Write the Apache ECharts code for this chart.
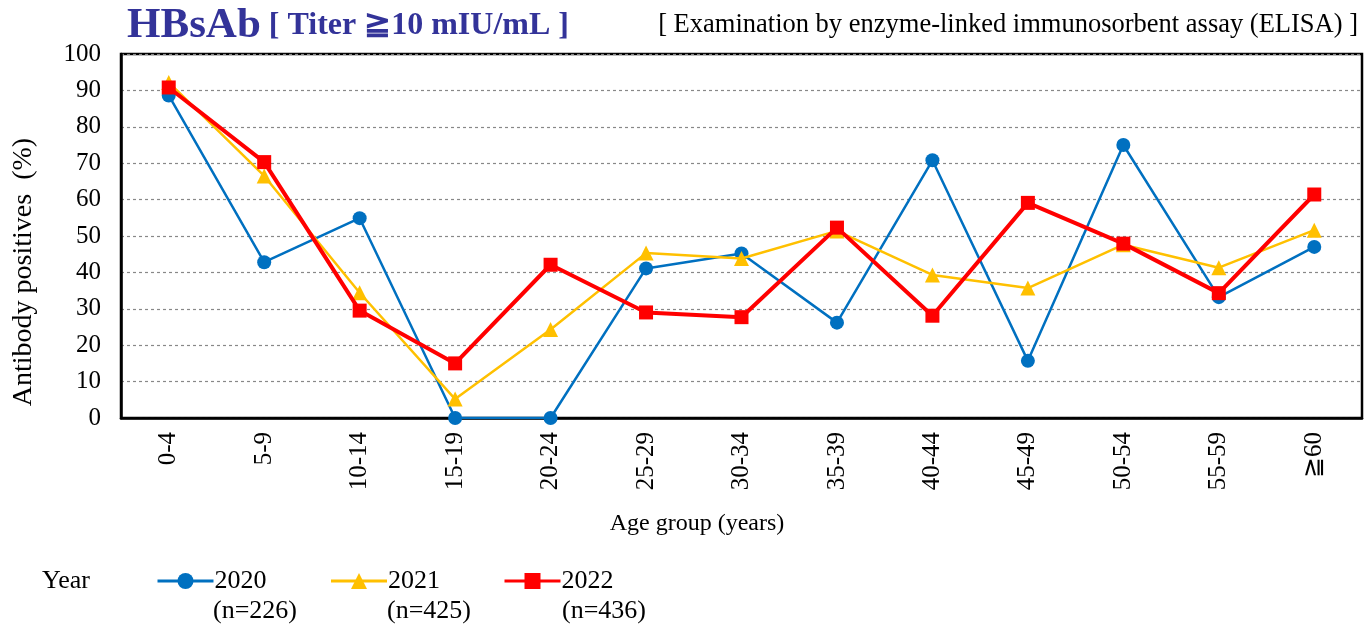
<!DOCTYPE html>
<html>
<head>
<meta charset="utf-8">
<script src="https://cdn.jsdelivr.net/npm/echarts@6/dist/echarts.min.js"></script>
<style>html,body{margin:0;padding:0;background:#fff}#c{width:1372px;height:628px}</style>
</head>
<body>
<div id="c"></div>
<script>
const categories = ['0-4','5-9','10-14','15-19','20-24','25-29','30-34','35-39','40-44','45-49','50-54','55-59','≧60'];
const years = ['2020','2021','2022'];
const sampleSizes = ['(n=226)','(n=425)','(n=436)'];
const v2020 = [88.6, 42.8, 54.9, 0, 0, 41.1, 45.2, 26.2, 70.8, 15.7, 75.0, 33.2, 47.0];
const v2021 = [92.2, 66.5, 34.4, 5.2, 24.3, 45.3, 43.8, 51.4, 39.3, 35.7, 47.6, 41.3, 51.6];
const v2022 = [90.8, 70.3, 29.5, 15.0, 42.1, 29.0, 27.7, 52.3, 28.1, 59.1, 47.9, 34.3, 61.4];
const yTicks = [0,10,20,30,40,50,60,70,80,90,100];

const FONT = '"Liberation Serif","Times New Roman",serif';
const chart = echarts.init(document.getElementById('c'));
const seriesCfg = [
  {data: v2020, color: '#0070C0', symbol: 'circle', size: 14, width: 2.5},
  {data: v2021, color: '#FFC000', symbol: 'triangle', size: 15, width: 2.5},
  {data: v2022, color: '#FF0000', symbol: 'rect', size: 14, width: 4}
];
chart.setOption({
  animation: false,
  backgroundColor: '#fff',
  textStyle: {fontFamily: FONT},
  grid: {left: 121, right: 10, top: 54, bottom: 210, show: true, borderColor: '#000', borderWidth: 2.5, backgroundColor: 'transparent'},
  xAxis: {
    type: 'category', data: categories, boundaryGap: true,
    axisLine: {lineStyle: {color: '#000', width: 2.5}},
    axisTick: {show: false},
    axisLabel: {rotate: 90, margin: 14, color: '#000', fontSize: 25, fontFamily: FONT}
  },
  yAxis: {
    type: 'value', min: yTicks[0], max: yTicks[yTicks.length-1], interval: 10,
    axisLine: {show: true, lineStyle: {color: '#000', width: 2.5}},
    axisTick: {show: false},
    axisLabel: {margin: 20, color: '#000', fontSize: 25, fontFamily: FONT},
    splitLine: {lineStyle: {color: '#888', type: [3, 3], width: 1.2}}
  },
  legend: {
    left: 151, top: 563, itemWidth: 56, itemHeight: 20, itemGap: 63,
    data: years,
    lineStyle: {width: 3},
    textStyle: {color: '#000', fontSize: 26, fontFamily: FONT, padding: [0,0,0,-4]}
  },
  graphic: [
    {type: 'text', left: 127, top: 4, style: {
      text: '{a|HBsAb}{b| [ Titer ≧10 mIU/mL ]}',
      rich: {
        a: {fontSize: 43, fontWeight: 'bold', fill: '#333399', fontFamily: FONT},
        b: {fontSize: 32, fontWeight: 'bold', fill: '#333399', fontFamily: FONT}
      }}},
    {type: 'text', right: 14, top: 12, style: {
      text: '[ Examination by enzyme-linked immunosorbent assay (ELISA) ]',
      fontSize: 26.5, fill: '#000', fontFamily: FONT}},
    {type: 'text', x: 24, y: 272, rotation: Math.PI/2, style: {
      text: 'Antibody positives  (%)', fontSize: 28, fill: '#000', fontFamily: FONT,
      align: 'center', verticalAlign: 'middle'}},
    {type: 'text', x: 697, y: 524, style: {
      text: 'Age group (years)', fontSize: 24, fill: '#000', fontFamily: FONT,
      align: 'center', verticalAlign: 'middle'}},
    {type: 'text', left: 42, top: 568, style: {text: 'Year', fontSize: 26, fill: '#000', fontFamily: FONT}},
    {type: 'text', left: 213, top: 598, style: {text: sampleSizes[0], fontSize: 26, fill: '#000', fontFamily: FONT}},
    {type: 'text', left: 387, top: 598, style: {text: sampleSizes[1], fontSize: 26, fill: '#000', fontFamily: FONT}},
    {type: 'text', left: 562, top: 598, style: {text: sampleSizes[2], fontSize: 26, fill: '#000', fontFamily: FONT}}
  ],
  series: seriesCfg.map((s, i) => ({
    name: years[i], type: 'line', data: s.data,
    symbol: s.symbol, symbolSize: s.size, showSymbol: true,
    itemStyle: {color: s.color},
    lineStyle: {color: s.color, width: s.width},
    z: 2 + i
  }))
});
</script>
</body>
</html>
